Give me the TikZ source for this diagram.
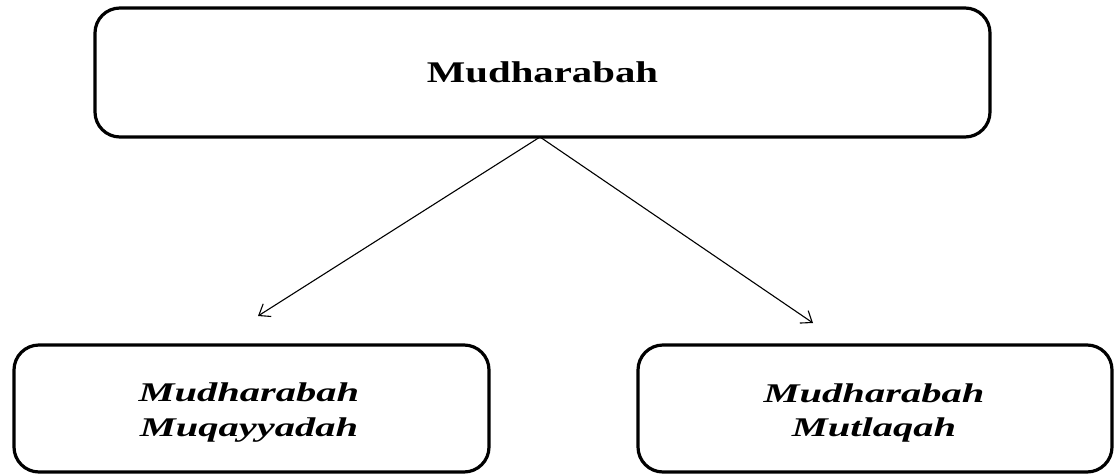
\documentclass[tikz,border=0pt]{standalone}
\usepackage{fontspec}
\setmainfont{Liberation Serif}
\newfontfamily\topfont[FakeStretch=1.36]{Liberation Serif}
\newfontfamily\subfont[FakeStretch=1.5]{Liberation Serif}
\usetikzlibrary{arrows.meta}
\begin{document}
\begin{tikzpicture}[x=1pt,y=-1pt,
  box/.style={draw=black, line width=3.2pt, rounded corners=25pt, inner sep=0pt},
  toplabel/.style={font=\topfont\bfseries\fontsize{30}{36}\selectfont},
  sublabel/.style={font=\subfont\bfseries\itshape\fontsize{27}{35}\selectfont, align=center, inner sep=0pt},
  link/.style={line width=1.1pt, -{Straight Barb[length=10pt,width=15pt,line width=1.1pt]}}]
\useasboundingbox (0,0) rectangle (1116,474);
\node[box, minimum width=895pt, minimum height=129pt] (top) at (542.5,72.5) {};
\node[toplabel] (toptext) at (542.5,72.5) {Mudharabah};
\node[box, minimum width=475pt, minimum height=127pt] (left) at (251.5,408.5) {};
\node[sublabel] (lefttext) at (249,413) {Mudharabah\\Muqayyadah};
\node[box, minimum width=474pt, minimum height=127pt] (right) at (875,408.5) {};
\node[sublabel] (righttext) at (874,413) {Mudharabah\\Mutlaqah};
\coordinate (src) at (540,137);
\coordinate (la) at (258,316);
\coordinate (ra) at (813,323);
\draw[link] (src) -- (la);
\draw[link] (src) -- (ra);
\end{tikzpicture}
\end{document}
